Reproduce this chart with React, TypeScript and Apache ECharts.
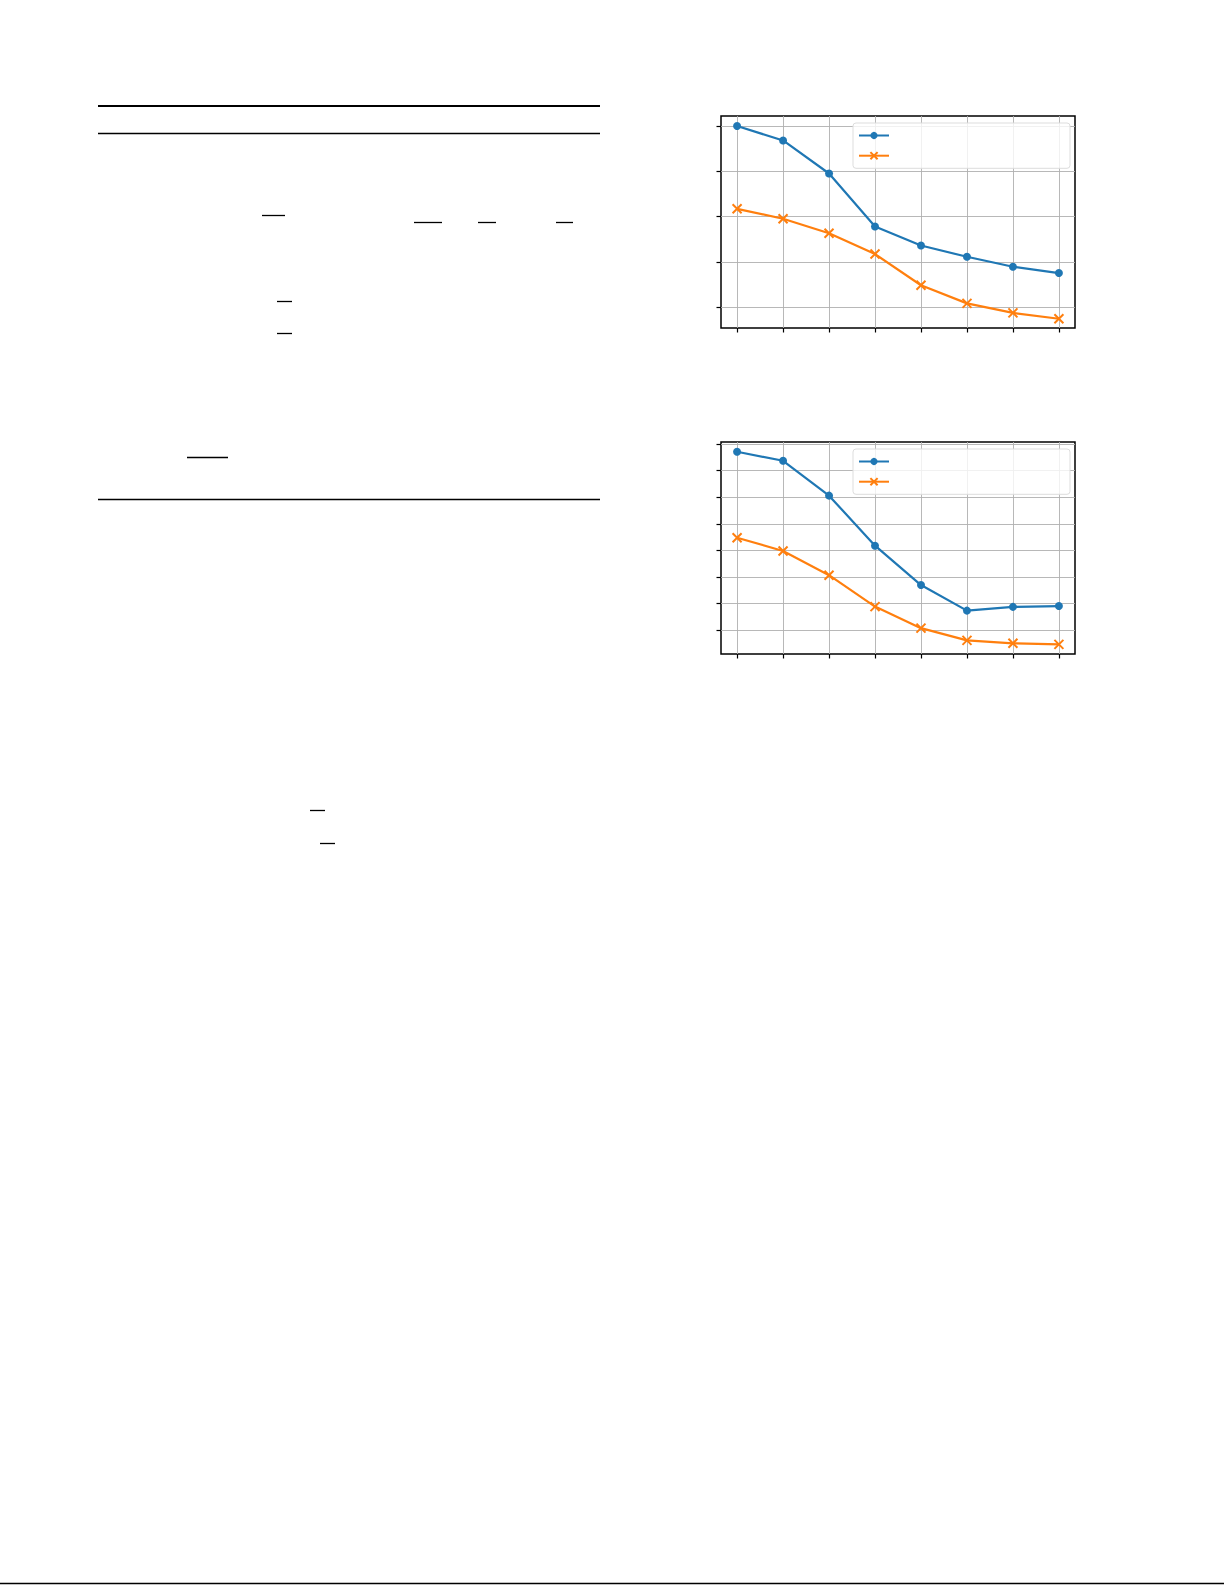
import { useEffect, useRef } from 'react';
import * as echarts from 'echarts';

// x positions (one per step) shared by both panels
const steps = [1, 2, 3, 4, 5, 6, 7, 8];

// upper panel
const upperCircle = [5.0, 4.68, 3.95, 2.78, 2.36, 2.11, 1.89, 1.75];
const upperCross = [3.17, 2.95, 2.63, 2.17, 1.48, 1.08, 0.87, 0.74];
const upperTicks = [1, 2, 3, 4, 5];
const upperRange = [0.536, 5.221];

// lower panel
const lowerCircle = [7.71, 7.37, 6.06, 4.18, 2.7, 1.74, 1.88, 1.91];
const lowerCross = [4.48, 3.98, 3.07, 1.89, 1.08, 0.62, 0.51, 0.47];
const lowerTicks = [1, 2, 3, 4, 5, 6, 7, 8];
const lowerRange = [0.109, 8.076];

const seriesNames = ['circle', 'cross'];

const BLUE = '#1f77b4';
const ORANGE = '#ff7f0e';
const CROSS = 'path://M0,0L10,10M10,0L0,10';

const PAGE_W = 1225;
const PAGE_H = 1585;

export default function App() {
  const containerRef = useRef<HTMLDivElement | null>(null);

  useEffect(() => {
    if (!containerRef.current) return;
    const chart = echarts.init(containerRef.current, undefined, { renderer: 'svg' });

    const panels = [
      { top: 116, circle: upperCircle, cross: upperCross, ticks: upperTicks, range: upperRange, legendTop: 123 },
      { top: 442, circle: lowerCircle, cross: lowerCross, ticks: lowerTicks, range: lowerRange, legendTop: 449 },
    ];

    const rule = (x1: number, x2: number, y: number, width = 1.3) => ({
      type: 'line',
      silent: true,
      shape: { x1, y1: y, x2, y2: y },
      style: { stroke: '#000', lineWidth: width },
    });

    chart.setOption({
      animation: false,
      backgroundColor: '#ffffff',
      grid: panels.map((p) => ({
        left: 721,
        top: p.top,
        width: 354,
        height: 212,
        show: true,
        borderColor: '#000',
        borderWidth: 1.5,
        backgroundColor: 'transparent',
      })),
      xAxis: panels.map((_, i) => ({
        type: 'value',
        gridIndex: i,
        min: 0.65,
        max: 8.35,
        axisLine: { show: false, onZero: false },
        axisTick: {
          show: true,
          inside: false,
          length: 4.5,
          customValues: steps,
          lineStyle: { color: '#000', width: 1.2 },
        },
        axisLabel: { show: false },
        splitLine: { show: true, lineStyle: { color: '#b0b0b0', width: 0.9 } },
      })),
      yAxis: panels.map((p, i) => ({
        type: 'value',
        gridIndex: i,
        min: p.range[0],
        max: p.range[1],
        axisLine: { show: false, onZero: false },
        axisTick: {
          show: true,
          inside: false,
          length: 4.5,
          customValues: p.ticks,
          lineStyle: { color: '#000', width: 1.2 },
        },
        axisLabel: { show: false },
        splitLine: { show: true, lineStyle: { color: '#b0b0b0', width: 0.9 } },
      })),
      legend: panels.map((p) => ({
        orient: 'vertical',
        left: 853,
        top: p.legendTop,
        data: seriesNames,
        formatter: () => '',
        itemWidth: 30,
        itemHeight: 9,
        itemGap: 12,
        padding: [8, 180, 8, 5],
        backgroundColor: 'rgba(255,255,255,0.8)',
        borderColor: '#dddddd',
        borderWidth: 1,
        borderRadius: 3,
        textStyle: { fontSize: 8 },
        selectedMode: false,
      })),
      series: panels.flatMap((p, i) => [
        {
          name: seriesNames[0],
          type: 'line',
          xAxisIndex: i,
          yAxisIndex: i,
          data: steps.map((s, k) => [s, p.circle[k]]),
          symbol: 'circle',
          symbolSize: 8,
          lineStyle: { color: BLUE, width: 2.2 },
          itemStyle: { color: BLUE, borderWidth: 0 },
          z: 3,
        },
        {
          name: seriesNames[1],
          type: 'line',
          xAxisIndex: i,
          yAxisIndex: i,
          data: steps.map((s, k) => [s, p.cross[k]]),
          symbol: CROSS,
          symbolSize: 9,
          lineStyle: { color: ORANGE, width: 2.2 },
          itemStyle: { color: ORANGE, borderColor: ORANGE, borderWidth: 2 },
          z: 4,
        },
      ]),
      graphic: [
        // table rules and underlines (their text is absent in the reference)
        rule(98, 600, 106, 2.2),
        rule(98, 600, 133.5, 1.3),
        rule(98, 600, 499.5, 1.3),
        rule(262, 285, 215.5),
        rule(414, 442, 222.5),
        rule(478, 496, 222.5),
        rule(556, 573, 222.5),
        rule(277, 292, 301.5),
        rule(277, 292, 333.5),
        rule(187, 228, 457.5),
        rule(310, 325, 810.5),
        rule(320, 335, 843.5),
        // page footer rule
        rule(0, 1224, 1583.5, 1.5),
      ],
    });

    return () => {
      chart.dispose();
    };
  }, []);

  return (
    <div
      ref={containerRef}
      style={{ position: 'absolute', left: 0, top: 0, width: PAGE_W, height: PAGE_H, background: '#fff' }}
    />
  );
}
